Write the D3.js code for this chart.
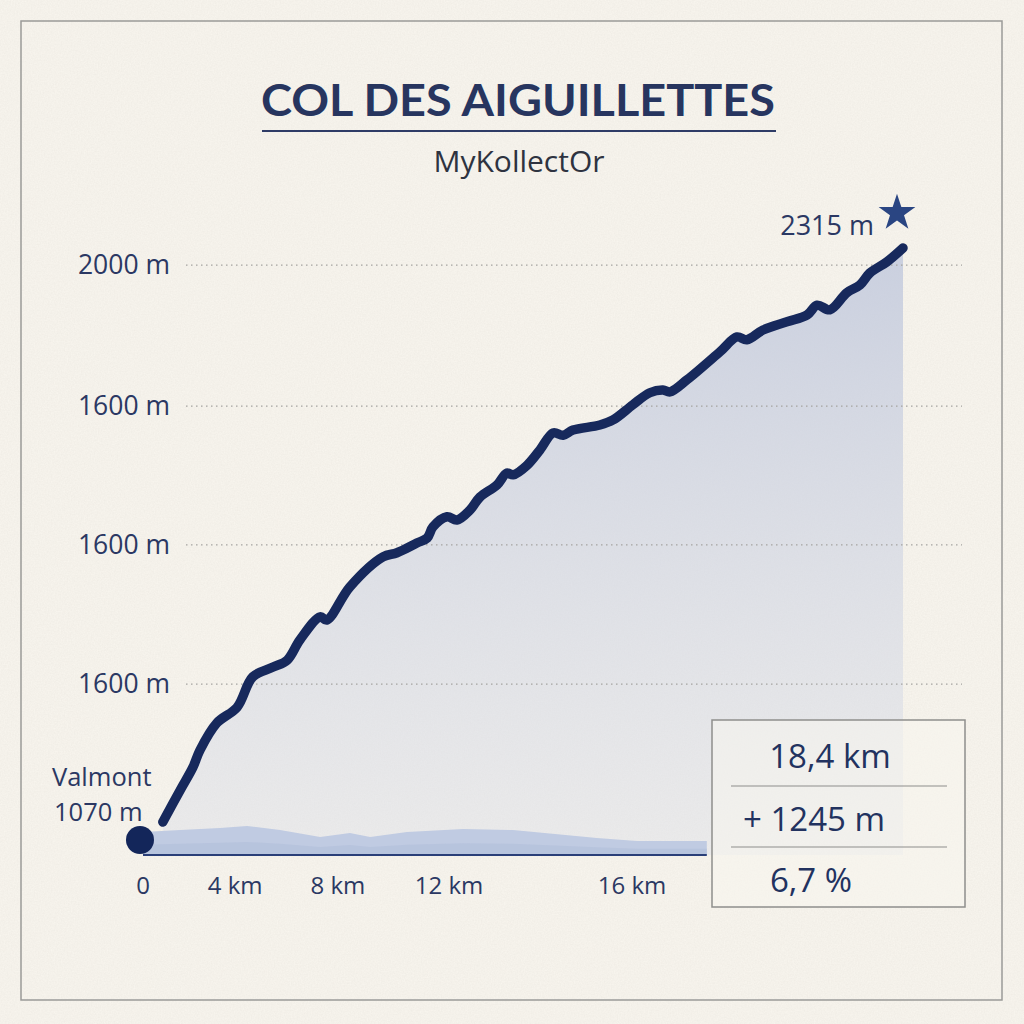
<!DOCTYPE html>
<html>
<head>
<meta charset="utf-8">
<script src="https://cdn.jsdelivr.net/npm/d3@7"></script>
<style>
  html, body { margin: 0; padding: 0; background: #f7f4ed; }
  svg { display: block; }
  text { font-family: "Open Sans", Lato, sans-serif; }
  text.title { font-family: Lato, sans-serif; }
</style>
</head>
<body>
<svg id="chart" width="1024" height="1024"></svg>
<script>
// profile: distance (km) / elevation (m)
const profileKm = [0.48, 0.90, 1.21, 1.38, 1.79, 2.28, 2.66, 3.15, 3.49, 3.80, 4.29, 4.45, 5.01,
  5.81, 6.15, 6.63, 6.88, 7.02, 7.36, 7.60, 7.92, 8.16, 8.57, 8.81, 8.96, 9.30, 9.61, 9.93,
  10.17, 10.41, 11.06, 11.38, 11.86, 12.27, 12.59, 12.76, 13.17, 13.97, 14.38, 14.62, 15.01,
  15.59, 16.08, 16.32, 16.63, 17.04, 17.36, 17.60, 18.01, 18.40];
const profileElev = [1070, 1139, 1189, 1226, 1285, 1319, 1385, 1406, 1421, 1465, 1515, 1508, 1580,
  1645, 1654, 1675, 1686, 1710, 1732, 1725, 1747, 1775, 1801, 1827, 1823, 1844, 1877, 1914,
  1909, 1920, 1931, 1942, 1975, 2001, 2007, 2003, 2029, 2090, 2122, 2116, 2137,
  2155, 2170, 2191, 2181, 2218, 2235, 2261, 2285, 2315];

// small silhouette strip along the base
const stripKm = [0, 0.9, 1.86, 2.52, 3.32, 4.29, 5.01, 5.50, 6.39, 7.75, 8.96, 10.99, 11.96, 13.65];
const stripVal = [23, 25, 27, 29, 25, 18, 22, 18, 23, 26, 25, 17, 14, 14];

// axis ticks as printed on the chart
const yTickValues = [1369, 1671, 1972, 2278];
const yTickLabels = ["1600 m", "1600 m", "1600 m", "2000 m"];
const xTickValues = [0, 2.23, 4.72, 7.41, 11.84];
const xTickLabels = ["0", "4 km", "8 km", "12 km", "16 km"];

const titleText = "COL DES AIGUILLETTES";
const subtitleText = "MyKollectOr";
const startName = "Valmont";
const startElev = "1070 m";
const peakElev = "2315 m";
const stats = ["18,4 km", "+ 1245 m", "6,7 %"];

const navy = "#17295c";
const ink = "#2b3863";

const svg = d3.select("#chart");

// paper texture
const defs = svg.append("defs");
const paper = defs.append("filter").attr("id", "paper").attr("x", 0).attr("y", 0)
  .attr("width", "100%").attr("height", "100%");
paper.append("feTurbulence").attr("type", "fractalNoise").attr("baseFrequency", 0.7)
  .attr("numOctaves", 3).attr("seed", 4).attr("result", "noise");
paper.append("feColorMatrix").attr("type", "matrix")
  .attr("values", "0 0 0 0 0.45  0 0 0 0 0.42  0 0 0 0 0.38  0 0 0 0.14 0");

const grad = defs.append("linearGradient").attr("id", "fillGrad")
  .attr("x1", 0).attr("y1", 0).attr("x2", 0).attr("y2", 1);
grad.append("stop").attr("offset", "0%").attr("stop-color", "#bfc7dc").attr("stop-opacity", 0.8);
grad.append("stop").attr("offset", "100%").attr("stop-color", "#dde0e9").attr("stop-opacity", 0.45);

svg.append("rect").attr("width", 1024).attr("height", 1024).attr("fill", "#f9f6ef");
svg.append("rect").attr("width", 1024).attr("height", 1024).attr("filter", "url(#paper)");

// frame
svg.append("rect").attr("x", 21).attr("y", 21).attr("width", 981).attr("height", 979)
  .attr("fill", "none").attr("stroke", "#9a9a98").attr("stroke-width", 1.5);

const x = d3.scaleLinear().domain([0, 18.4]).range([143, 903]);
const y = d3.scaleLinear().domain([1070, 2315]).range([822, 248]);
const baseY = 855;
const stripY = d3.scaleLinear().domain([0, 30]).range([baseY, baseY - 30]);

const profile = profileKm.map((k, i) => ({ k, e: profileElev[i] }));
const strip = stripKm.map((k, i) => ({ k, v: stripVal[i] }));

// area under profile
svg.append("path")
  .datum(profile)
  .attr("fill", "url(#fillGrad)")
  .attr("d", d3.area().x(d => x(d.k)).y0(baseY).y1(d => y(d.e)).curve(d3.curveCatmullRom));

// gridlines
svg.append("g")
  .selectAll("line")
  .data(yTickValues)
  .join("line")
  .attr("x1", 186).attr("x2", 962)
  .attr("y1", d => y(d)).attr("y2", d => y(d))
  .attr("stroke", "#a4a3a0").attr("stroke-width", 1.2)
  .attr("stroke-dasharray", "1.5 3.5");

// y labels
svg.append("g")
  .selectAll("text")
  .data(yTickValues)
  .join("text")
  .attr("x", 170).attr("y", d => y(d) + 9)
  .attr("text-anchor", "end")
  .attr("font-size", 26.5).attr("fill", ink)
  .text((d, i) => yTickLabels[i]);

// base strip
svg.append("path")
  .datum(strip)
  .attr("fill", "#c0cbe2")
  .attr("d", d3.area().x(d => x(d.k)).y0(baseY).y1(d => stripY(d.v)).curve(d3.curveLinear));
svg.append("path")
  .datum(strip)
  .attr("fill", "#b3c0dc").attr("opacity", 0.7)
  .attr("d", d3.area().x(d => x(d.k)).y0(baseY).y1(d => stripY(d.v * 0.45)));

// baseline
svg.append("line")
  .attr("x1", x(0)).attr("x2", x(13.65))
  .attr("y1", baseY).attr("y2", baseY)
  .attr("stroke", "#2a3f78").attr("stroke-width", 2);

// profile line
svg.append("path")
  .datum(profile)
  .attr("fill", "none")
  .attr("stroke", navy).attr("stroke-width", 9.5)
  .attr("stroke-linecap", "round").attr("stroke-linejoin", "round")
  .attr("d", d3.line().x(d => x(d.k)).y(d => y(d.e)).curve(d3.curveCatmullRom));

// x labels
svg.append("g")
  .selectAll("text")
  .data(xTickValues)
  .join("text")
  .attr("x", d => x(d)).attr("y", 894)
  .attr("text-anchor", "middle")
  .attr("font-size", 24).attr("fill", ink)
  .text((d, i) => xTickLabels[i]);

// start marker
svg.append("circle").attr("cx", x(0) - 3).attr("cy", 840).attr("r", 14).attr("fill", "#13265a");
svg.append("text").attr("x", 52).attr("y", 786).attr("font-size", 25.5).attr("fill", ink).text(startName);
svg.append("text").attr("x", 54).attr("y", 821).attr("font-size", 25.5).attr("fill", ink).text(startElev);

// summit
const last = profile[profile.length - 1];
svg.append("text").attr("x", x(last.k) - 29).attr("y", 235)
  .attr("text-anchor", "end").attr("font-size", 27).attr("fill", ink).text(peakElev);
svg.append("path")
  .attr("transform", `translate(${x(last.k) - 6},${213})`)
  .attr("d", d3.symbol().type(d3.symbolStar).size(420)())
  .attr("fill", "#2a4582");

// title
svg.append("text").attr("class", "title").attr("x", 518).attr("y", 116).attr("text-anchor", "middle")
  .attr("font-size", 43).attr("font-weight", 700).attr("fill", "#27355f")
  .attr("textLength", 514).attr("lengthAdjust", "spacingAndGlyphs")
  .text(titleText);
svg.append("line").attr("x1", 262).attr("x2", 776).attr("y1", 131).attr("y2", 131)
  .attr("stroke", "#2f3c66").attr("stroke-width", 2);
svg.append("text").attr("x", 519).attr("y", 172).attr("text-anchor", "middle")
  .attr("font-size", 30).attr("fill", "#2e3340").text(subtitleText);

// stats box
const box = svg.append("g");
box.append("rect").attr("x", 712).attr("y", 720).attr("width", 253).attr("height", 187)
  .attr("fill", "#f8f5ee").attr("fill-opacity", 0.55)
  .attr("stroke", "#8e8e8c").attr("stroke-width", 1.5);
box.selectAll("line.div")
  .data([786, 847])
  .join("line")
  .attr("x1", 731).attr("x2", 947)
  .attr("y1", d => d).attr("y2", d => d)
  .attr("stroke", "#8e8e8c").attr("stroke-width", 1.2);
const statX = [830, 814, 811];
const statY = [768, 831, 892];
box.selectAll("text")
  .data(stats)
  .join("text")
  .attr("x", (d, i) => statX[i]).attr("y", (d, i) => statY[i])
  .attr("text-anchor", "middle")
  .attr("font-size", 33).attr("fill", "#22325f")
  .text(d => d);
</script>
</body>
</html>
